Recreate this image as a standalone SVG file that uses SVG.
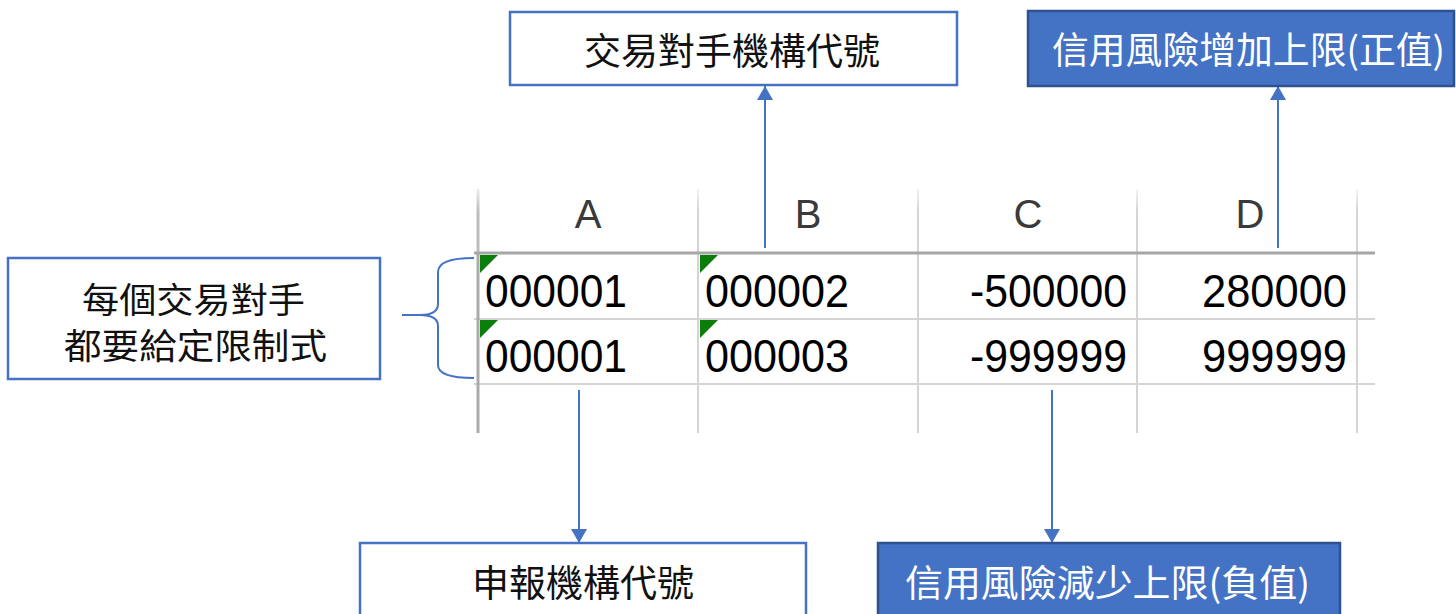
<svg xmlns="http://www.w3.org/2000/svg" width="1456" height="614" viewBox="0 0 1456 614">
<style>
.box{fill:#FFFFFF;stroke:#4472C4;stroke-width:2.5}
.fbox{fill:#4472C4;stroke:#2F528F;stroke-width:2.5}
.cjk{font-family:"Noto Sans CJK TC","Noto Sans CJK SC",sans-serif;font-size:37px;dominant-baseline:central}
.cjks{font-size:35px}
.dark{fill:#111111}
.light{fill:#FFFFFF}
.hdr{font-family:"Liberation Sans","DejaVu Sans",sans-serif;font-size:40px;fill:#3A3A3A;text-anchor:middle}
.num{font-family:"Liberation Sans","DejaVu Sans",sans-serif;font-size:46px;fill:#000000}
.grid{stroke:#D4D4D4;stroke-width:2}
.conn{stroke:#4472C4;stroke-width:2;fill:none}
.tri{fill:#0A7D0A}
</style>
<defs>
<marker id="arr" markerUnits="userSpaceOnUse" markerWidth="16" markerHeight="16" viewBox="0 0 14 16" refX="14" refY="8" orient="auto">
<path d="M0,0 L14,8 L0,16 Z" fill="#4472C4"/>
</marker>
<linearGradient id="fade" x1="0" y1="189" x2="0" y2="253" gradientUnits="userSpaceOnUse">
<stop offset="0" stop-color="#F4F4F4"/>
<stop offset="0.35" stop-color="#D4D4D4"/>
<stop offset="1" stop-color="#D4D4D4"/>
</linearGradient>
<linearGradient id="fadeL" x1="0" y1="189" x2="0" y2="253" gradientUnits="userSpaceOnUse">
<stop offset="0" stop-color="#EEEEEE"/>
<stop offset="0.35" stop-color="#BDBDBD"/>
<stop offset="1" stop-color="#BDBDBD"/>
</linearGradient>
</defs>

<g id="sheet">
<line x1="698" y1="189" x2="698" y2="253" stroke="url(#fade)" stroke-width="2"/>
<line x1="918" y1="189" x2="918" y2="253" stroke="url(#fade)" stroke-width="2"/>
<line x1="1137" y1="189" x2="1137" y2="253" stroke="url(#fade)" stroke-width="2"/>
<line x1="1357" y1="189" x2="1357" y2="253" stroke="url(#fade)" stroke-width="2"/>
<line class="grid" x1="698" y1="253" x2="698" y2="433"/>
<line class="grid" x1="918" y1="253" x2="918" y2="433"/>
<line class="grid" x1="1137" y1="253" x2="1137" y2="433"/>
<line class="grid" x1="1357" y1="253" x2="1357" y2="433"/>
<line class="grid" x1="474" y1="319" x2="1375" y2="319"/>
<line class="grid" x1="474" y1="384" x2="1375" y2="384"/>
<line x1="478" y1="189" x2="478" y2="253" stroke="url(#fadeL)" stroke-width="3"/>
<line x1="478" y1="253" x2="478" y2="433" stroke="#ABABAB" stroke-width="3"/>
<line x1="474" y1="253" x2="1375" y2="253" stroke="#A6A6A6" stroke-width="3"/>
<text class="hdr" x="588" y="228">A</text>
<text class="hdr" x="808" y="228">B</text>
<text class="hdr" x="1028" y="228">C</text>
<text class="hdr" x="1250" y="228">D</text>
<path class="tri" d="M480,255 L498,255 L480,273 Z"/>
<path class="tri" d="M700,255 L718,255 L700,273 Z"/>
<path class="tri" d="M480,320 L498,320 L480,338 Z"/>
<path class="tri" d="M700,320 L718,320 L700,338 Z"/>
<text class="num" x="485" y="307" textLength="142" lengthAdjust="spacingAndGlyphs">000001</text>
<text class="num" x="705" y="307" textLength="144" lengthAdjust="spacingAndGlyphs">000002</text>
<text class="num" x="1127" y="307" text-anchor="end" textLength="157" lengthAdjust="spacingAndGlyphs">-500000</text>
<text class="num" x="1347" y="307" text-anchor="end" textLength="145" lengthAdjust="spacingAndGlyphs">280000</text>
<text class="num" x="485" y="372" textLength="142" lengthAdjust="spacingAndGlyphs">000001</text>
<text class="num" x="705" y="372" textLength="144" lengthAdjust="spacingAndGlyphs">000003</text>
<text class="num" x="1127" y="372" text-anchor="end" textLength="157" lengthAdjust="spacingAndGlyphs">-999999</text>
<text class="num" x="1347" y="372" text-anchor="end" textLength="145" lengthAdjust="spacingAndGlyphs">999999</text>
</g>

<g id="connectors">
<line class="conn" x1="765" y1="248" x2="765" y2="86" marker-end="url(#arr)"/>
<line class="conn" x1="1278" y1="248" x2="1278" y2="86" marker-end="url(#arr)"/>
<line class="conn" x1="579" y1="390" x2="579" y2="543" marker-end="url(#arr)"/>
<line class="conn" x1="1052" y1="390" x2="1052" y2="543" marker-end="url(#arr)"/>
<path class="conn" stroke-width="2.5" d="M474,258 Q438,258 438,272 L438,304 Q438,315 420,315 L402,315 L420,315 Q438,315 438,326 L438,365 Q438,378 474,378"/>
</g>

<g id="node-counterparty">
<rect class="box" x="510" y="12" width="447" height="73"/>
<text class="cjk dark" x="732" y="49" text-anchor="middle">交易對手機構代號</text>
</g>

<g id="node-upper-limit">
<rect class="fbox" x="1028" y="11" width="426" height="75"/>
<text class="cjk light" x="1052" y="48" textLength="393" lengthAdjust="spacingAndGlyphs">信用風險增加上限(正值)</text>
</g>

<g id="node-note">
<rect class="box" x="8" y="258" width="372" height="121"/>
<text class="cjk cjks dark" x="82" y="297" textLength="223" lengthAdjust="spacingAndGlyphs">每個交易對手</text>
<text class="cjk cjks dark" x="64" y="343" textLength="263" lengthAdjust="spacingAndGlyphs">都要給定限制式</text>
</g>

<g id="node-reporter">
<rect class="box" x="360" y="543" width="446" height="80"/>
<text class="cjk dark" x="583" y="581" text-anchor="middle">申報機構代號</text>
</g>

<g id="node-lower-limit">
<rect class="fbox" x="878" y="543" width="462" height="80"/>
<text class="cjk light" x="905" y="581" textLength="405" lengthAdjust="spacingAndGlyphs">信用風險減少上限(負值)</text>
</g>
</svg>
